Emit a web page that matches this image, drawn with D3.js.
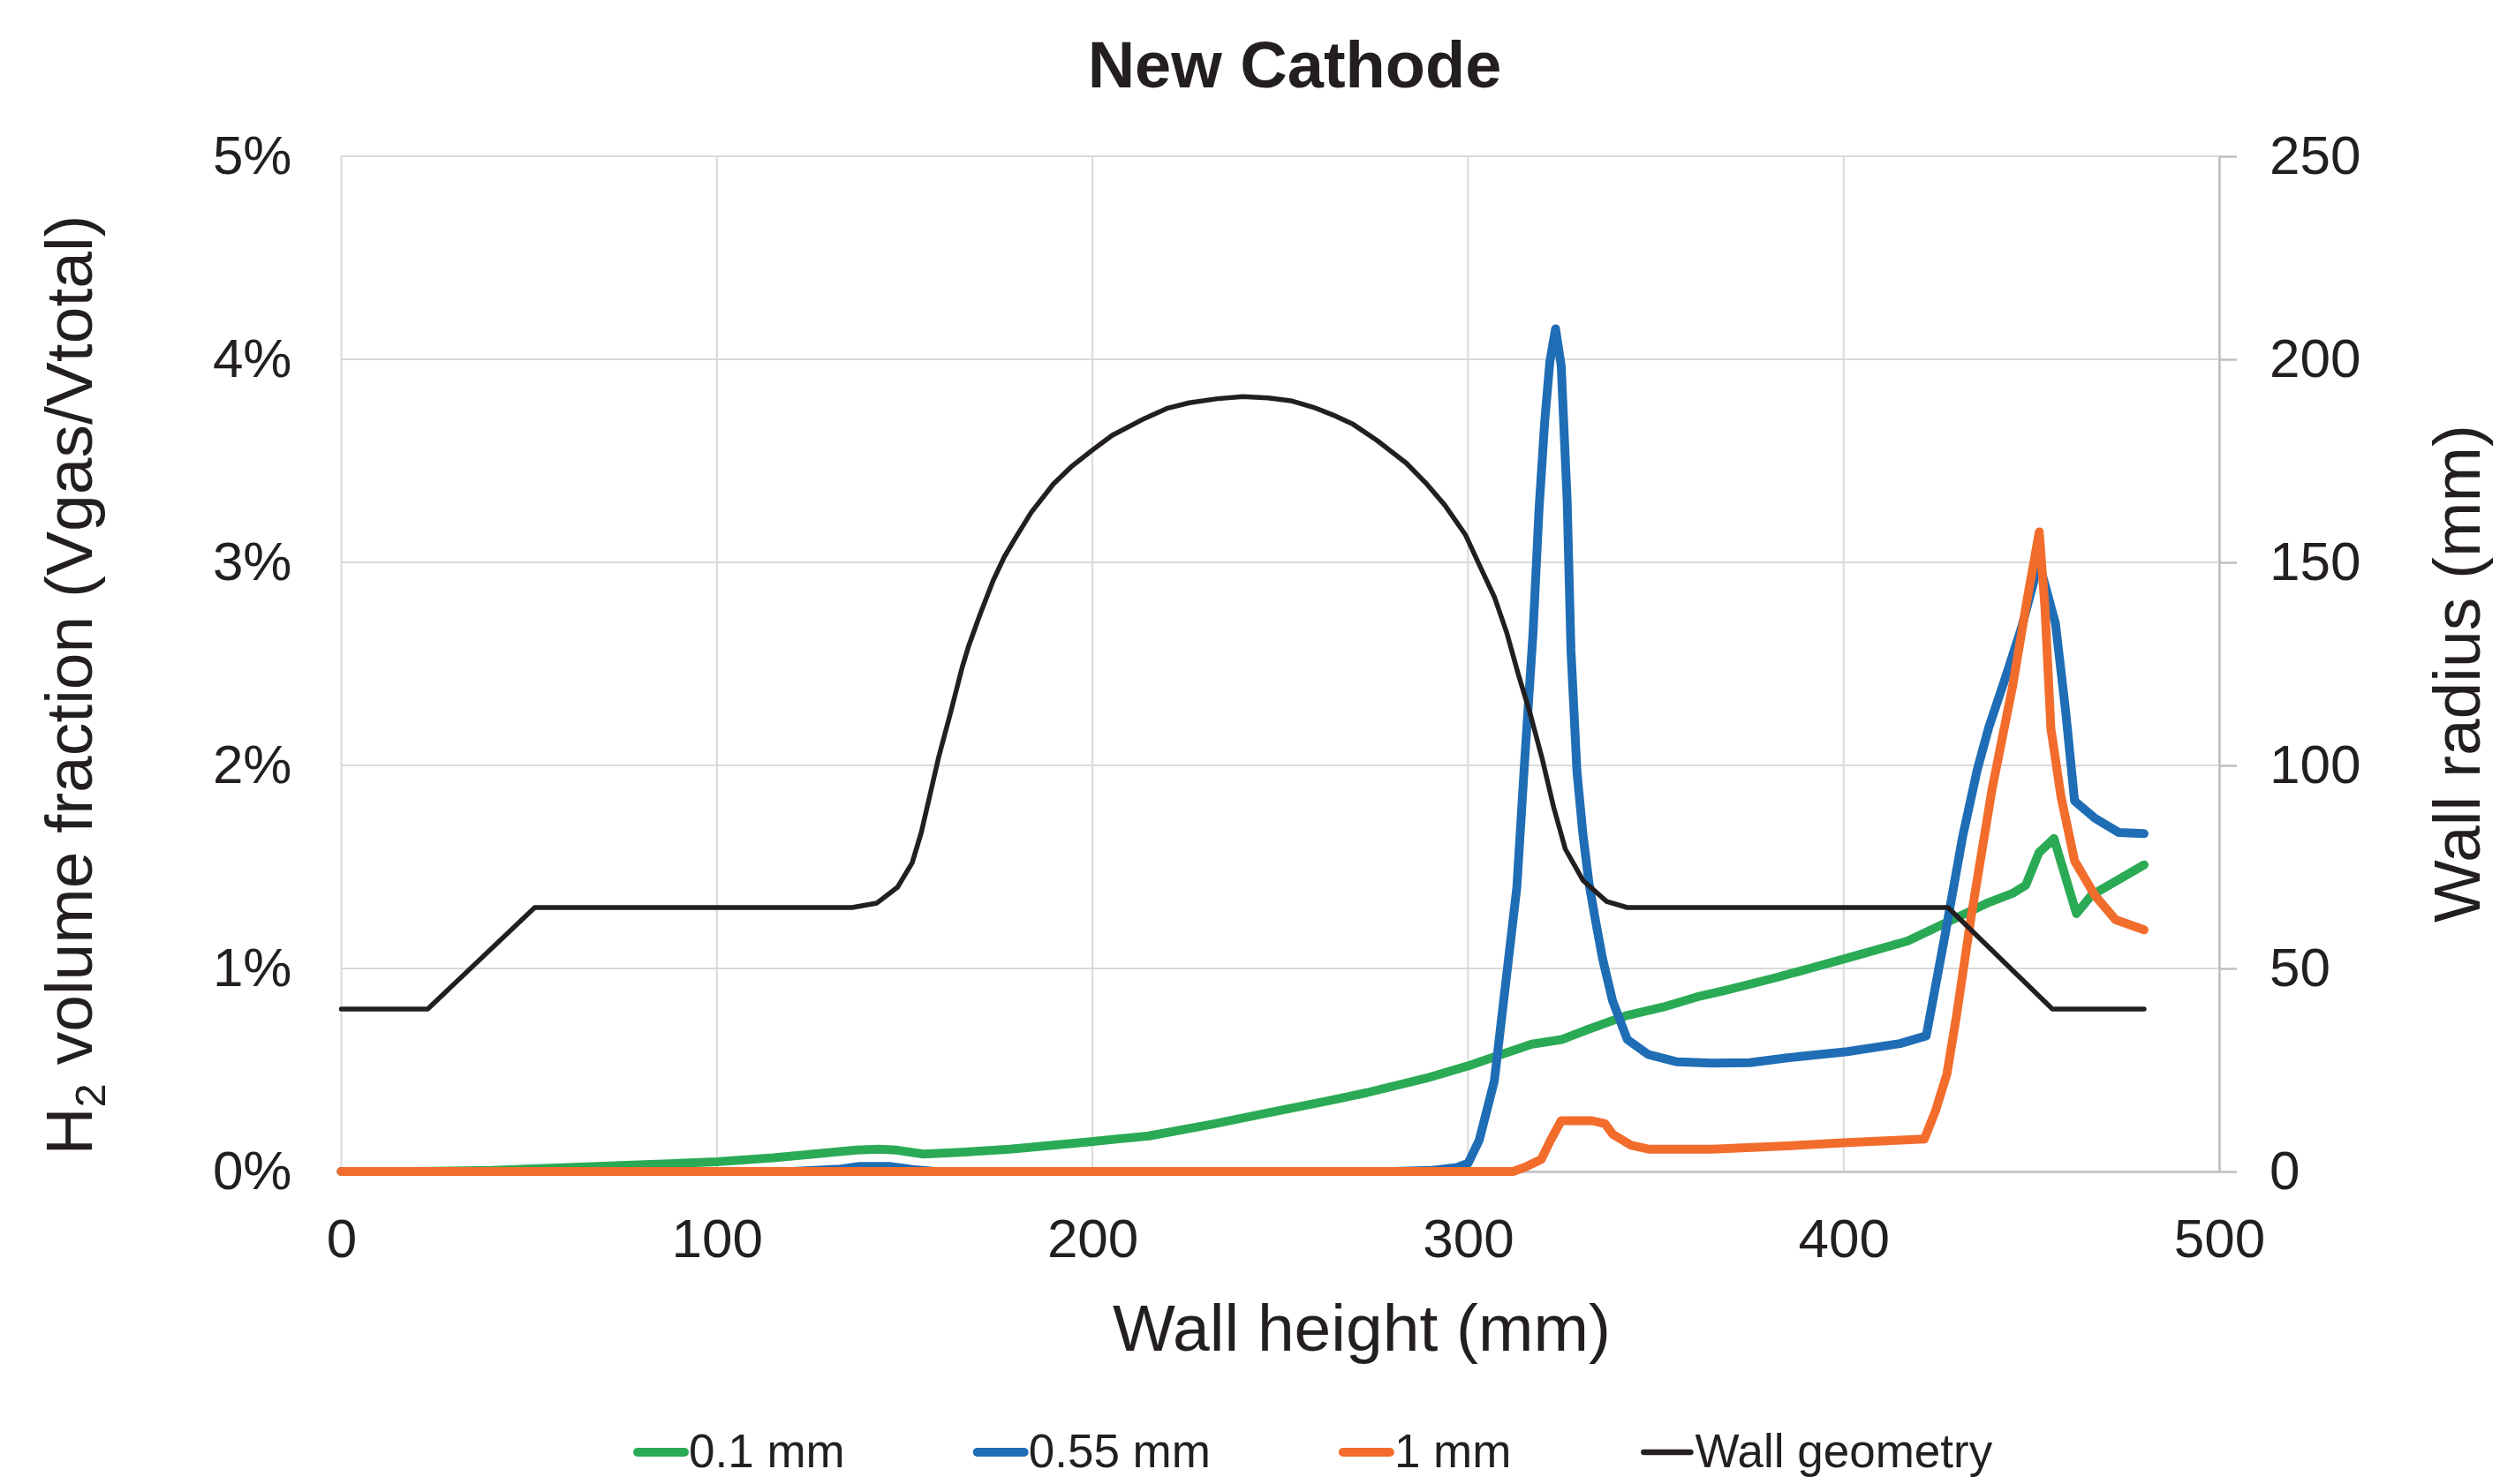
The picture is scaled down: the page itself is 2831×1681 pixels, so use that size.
<!DOCTYPE html>
<html>
<head>
<meta charset="utf-8">
<script src="https://cdn.jsdelivr.net/npm/d3@7"></script>
<style>
  html, body { margin: 0; padding: 0; background: #fff; }
  svg { display: block; font-family: "Liberation Sans", Arial, sans-serif; }
</style>
</head>
<body>
<svg id="chart"></svg>
<script>
// ---- tick values ----
const xTicks = [0, 100, 200, 300, 400, 500];
const leftTicks = [0, 1, 2, 3, 4, 5];          // H2 volume fraction, %
const rightTicks = [0, 50, 100, 150, 200, 250]; // wall radius, mm

// ---- series: 0.1 mm (left axis, %) ----
const thinX = [0, 20, 40, 76, 100, 115, 127, 137, 143, 148, 155, 165, 178, 199, 215, 232, 247, 262, 273, 289, 300, 309, 317, 325, 332, 342, 352, 361, 368, 381, 391, 404, 417, 429, 438, 445, 448.5, 452, 456, 462, 466, 480];
const thinY = [0, 0, 0.005, 0.03, 0.048, 0.067, 0.088, 0.105, 0.11, 0.105, 0.086, 0.095, 0.11, 0.146, 0.175, 0.233, 0.29, 0.345, 0.388, 0.46, 0.52, 0.577, 0.627, 0.65, 0.70, 0.767, 0.81, 0.86, 0.89, 0.95, 1.0, 1.067, 1.135, 1.24, 1.32, 1.37, 1.41, 1.57, 1.64, 1.27, 1.36, 1.51];

// ---- series: 0.55 mm (left axis, %) ----
const midX = [0, 120, 133, 138, 146, 152, 158, 280, 290, 297, 300, 303, 307, 310.3, 313, 315, 317.3, 318.9, 320.4, 321.8, 323.3, 324.8, 326.4, 327.4, 329, 330.6, 332.2, 333.8, 335.8, 338.5, 342.4, 347.9, 355.7, 365, 375, 385, 401, 415, 422, 427, 431.7, 435.6, 438.7, 442.7, 447.4, 452, 456.4, 459.1, 461.5, 466.9, 473.2, 480];
const midY = [0, 0, 0.012, 0.025, 0.025, 0.01, 0, 0, 0.005, 0.02, 0.04, 0.155, 0.446, 0.97, 1.4, 2.0, 2.65, 3.26, 3.69, 3.99, 4.15, 3.97, 3.3, 2.57, 1.97, 1.66, 1.42, 1.25, 1.05, 0.84, 0.65, 0.577, 0.54, 0.534, 0.536, 0.56, 0.59, 0.63, 0.668, 1.164, 1.65, 1.98, 2.19, 2.41, 2.68, 3.0, 2.70, 2.27, 1.825, 1.74, 1.67, 1.664];

// ---- series: 1 mm (left axis, %) ----
const thickX = [0, 312, 315, 319.5, 322, 324.8, 328, 333, 336.5, 338.5, 343.3, 348, 351.5, 365, 385, 401, 421.5, 424.5, 427.5, 430, 434, 439.5, 445, 448.9, 452.1, 453.6, 455.2, 457.9, 461.5, 466.9, 472.4, 480];
const thickY = [0, 0, 0.02, 0.06, 0.155, 0.25, 0.25, 0.25, 0.235, 0.184, 0.13, 0.11, 0.11, 0.11, 0.126, 0.142, 0.16, 0.3, 0.48, 0.76, 1.26, 1.88, 2.39, 2.82, 3.15, 2.78, 2.18, 1.845, 1.53, 1.36, 1.24, 1.19];

// ---- series: wall geometry (right axis, mm) ----
const wallX = [0, 23, 51.5, 136, 142.6, 148.1, 152, 154.4, 156.7, 159.1, 162.2, 165.3, 167, 170, 173.6, 176.5, 179.5, 183.7, 189.6, 194.3, 200.2, 205.3, 213.8, 219.8, 225.8, 233.3, 240, 246.8, 252.8, 258.8, 264.8, 269.4, 275.8, 283.6, 289.1, 293.8, 299.3, 303.2, 307.1, 310.3, 313.4, 316.5, 319.7, 322.8, 325.9, 330.6, 336.9, 342.4, 427.8, 455.6, 480];
const wallY = [40, 40, 65, 65, 66.1, 70, 76, 83.4, 92.6, 102.2, 112.9, 124.1, 129.3, 137, 145.6, 151.3, 156, 162.3, 169.3, 173.5, 177.8, 181.3, 185.4, 187.9, 189.3, 190.3, 190.8, 190.5, 189.8, 188.2, 186, 184, 180, 174.4, 169.2, 164.1, 156.8, 149, 141.3, 132.7, 122.4, 112.9, 101.8, 89.7, 79.4, 71.7, 66.5, 65, 65, 40, 40];

const seriesNames = ["0.1 mm", "0.55 mm", "1 mm", "Wall geometry"];
const seriesColors = ["#2baa55", "#1f6db5", "#f26c2c", "#231f20"];

const width = 2831, height = 1681;
const margin = { top: 177, right: 318, bottom: 354, left: 386.5 };
const plotW = width - margin.left - margin.right;
const plotH = height - margin.top - margin.bottom;
const textColor = "#231f20";

const svg = d3.select("#chart")
    .attr("width", width)
    .attr("height", height);

const x = d3.scaleLinear().domain([0, 500]).range([margin.left, margin.left + plotW]);
const yL = d3.scaleLinear().domain([0, 5]).range([margin.top + plotH, margin.top]);
const yR = d3.scaleLinear().domain([0, 250]).range([margin.top + plotH, margin.top]);

// --- gridlines ---
svg.append("g").selectAll("line.h")
    .data(leftTicks)
    .enter().append("line")
    .attr("x1", x(0)).attr("x2", x(500))
    .attr("y1", d => yL(d)).attr("y2", d => yL(d))
    .attr("stroke", "#d9d9d9").attr("stroke-width", 2);

svg.append("g").selectAll("line.v")
    .data(xTicks)
    .enter().append("line")
    .attr("x1", d => x(d)).attr("x2", d => x(d))
    .attr("y1", yL(0)).attr("y2", yL(5))
    .attr("stroke", "#d9d9d9").attr("stroke-width", 2);

// --- axes ---
const bottomAxis = svg.append("g")
    .attr("transform", `translate(0,${yL(0)})`)
    .call(d3.axisBottom(x).tickValues(xTicks).tickSize(0).tickSizeOuter(0).tickPadding(53));

const leftAxis = svg.append("g")
    .attr("transform", `translate(${x(0)},0)`)
    .call(d3.axisLeft(yL).tickValues(leftTicks).tickSize(0).tickSizeOuter(0).tickPadding(56)
        .tickFormat(d => d + "%"));
leftAxis.select(".domain").remove();

const rightAxis = svg.append("g")
    .attr("transform", `translate(${x(500)},0)`)
    .call(d3.axisRight(yR).tickValues(rightTicks).tickSize(20).tickSizeOuter(0).tickPadding(37));

[bottomAxis, leftAxis, rightAxis].forEach(g => {
  g.selectAll(".domain").attr("stroke", "#bfbfbf").attr("stroke-width", 2.5);
  g.selectAll(".tick line").attr("stroke", "#bfbfbf").attr("stroke-width", 2.5);
  g.selectAll(".tick text")
      .attr("fill", textColor)
      .style("font-size", "62px");
});

// --- lines ---
const series = [
  { xs: thinX, ys: thinY, scale: yL, w: 10 },
  { xs: midX, ys: midY, scale: yL, w: 10 },
  { xs: thickX, ys: thickY, scale: yL, w: 10 },
  { xs: wallX, ys: wallY, scale: yR, w: 5.5 }
];

series.forEach((s, i) => {
  const pts = s.xs.map((v, j) => [v, s.ys[j]]);
  const line = d3.line()
      .x(d => x(d[0]))
      .y(d => s.scale(d[1]));
  svg.append("path")
      .datum(pts)
      .attr("d", line)
      .attr("fill", "none")
      .attr("stroke", seriesColors[i])
      .attr("stroke-width", s.w)
      .attr("stroke-linejoin", "round")
      .attr("stroke-linecap", "round");
});

// --- titles ---
svg.append("text")
    .attr("x", 1466).attr("y", 99)
    .attr("text-anchor", "middle")
    .style("font-size", "74px")
    .style("font-weight", "bold")
    .attr("fill", textColor)
    .text("New Cathode");

svg.append("text")
    .attr("x", 1542).attr("y", 1530)
    .attr("text-anchor", "middle")
    .style("font-size", "75px")
    .attr("fill", textColor)
    .text("Wall height (mm)");

const yTitle = svg.append("text")
    .attr("transform", "translate(104,776) rotate(-90)")
    .attr("text-anchor", "middle")
    .style("font-size", "75px")
    .attr("fill", textColor);
yTitle.append("tspan").text("H");
yTitle.append("tspan").attr("dy", 15).style("font-size", "49px").text("2");
yTitle.append("tspan").attr("dy", -15).text(" volume fraction (Vgas/Vtotal)");

svg.append("text")
    .attr("transform", "translate(2808,763) rotate(-90)")
    .attr("text-anchor", "middle")
    .style("font-size", "75px")
    .attr("fill", textColor)
    .text("Wall radius (mm)");

// --- legend ---
const legend = svg.append("g");
let lx = 717;
const ly = 1645;
seriesNames.forEach((name, i) => {
  legend.append("line")
      .attr("x1", lx + 5).attr("x2", lx + 58)
      .attr("y1", ly).attr("y2", ly)
      .attr("stroke", seriesColors[i])
      .attr("stroke-width", i === 3 ? 6.5 : 10)
      .attr("stroke-linecap", "round");
  const t = legend.append("text")
      .attr("x", lx + 63).attr("y", 1662)
      .style("font-size", "53px")
      .attr("fill", textColor)
      .text(name);
  lx += 63 + t.node().getComputedTextLength() + 145;
});
</script>
</body>
</html>
